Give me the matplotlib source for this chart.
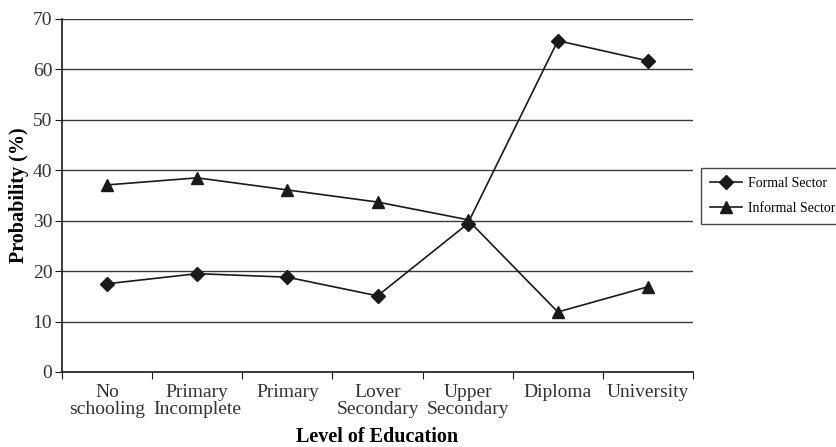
import matplotlib.pyplot as plt

levels = ["No\nschooling", "Primary\nIncomplete", "Primary", "Lover\nSecondary",
          "Upper\nSecondary", "Diploma", "University"]
formal = [17.5, 19.5, 18.8, 15.1, 29.4, 65.7, 61.7]
informal = [37.1, 38.5, 36.1, 33.7, 30.2, 11.9, 16.9]
yticks = [0, 10, 20, 30, 40, 50, 60, 70]

plt.rcParams["font.family"] = ["Liberation Serif", "DejaVu Serif"]

fig = plt.figure(figsize=(8.36, 4.47), dpi=100)
ax = fig.add_axes([0.0742, 0.1678, 0.7548, 0.7897])

x = list(range(len(levels)))
ax.plot(x, formal, color="#1a1a1a", lw=1.2, marker="D", ms=7.5, label="Formal Sector")
ax.plot(x, informal, color="#1a1a1a", lw=1.2, marker="^", ms=8.5, label="Informal Sector")

ax.set_xlim(-0.5, len(levels) - 0.5)
ax.set_ylim(0, 70)
ax.set_yticks(yticks)
ax.yaxis.grid(True, color="#3a3a3a", lw=1.0)
ax.set_axisbelow(True)

# category labels sit between the tick marks
ax.set_xticks([i - 0.5 for i in range(len(levels) + 1)])
ax.set_xticklabels([])
ax.set_xticks(x, minor=True)
ax.set_xticklabels(levels, minor=True, fontsize=14, linespacing=1.0)
ax.tick_params(axis="x", which="minor", length=0, pad=9, labelcolor="#333333")
ax.tick_params(axis="x", which="major", length=5, color="#1a1a1a")
ax.tick_params(axis="y", labelsize=14, length=5, pad=2, color="#1a1a1a", labelcolor="#333333")

for side in ("top", "right"):
    ax.spines[side].set_visible(False)
for side in ("left", "bottom"):
    ax.spines[side].set_color("#1a1a1a")
    ax.spines[side].set_linewidth(1.2)

ax.set_ylabel("Probability (%)", fontsize=14.5, fontweight="bold", labelpad=3)
ax.set_xlabel("Level of Education", fontsize=14.5, fontweight="bold", labelpad=6)

leg = fig.legend(loc="upper left", bbox_to_anchor=(0.8385, 0.624), fontsize=10,
                 frameon=True, fancybox=False, edgecolor="#1a1a1a", borderaxespad=0,
                 handlelength=2.3, borderpad=0.65, labelspacing=0.85, handletextpad=0.4)
leg.get_frame().set_linewidth(1.0)

fig.savefig("out.png", dpi=100)
